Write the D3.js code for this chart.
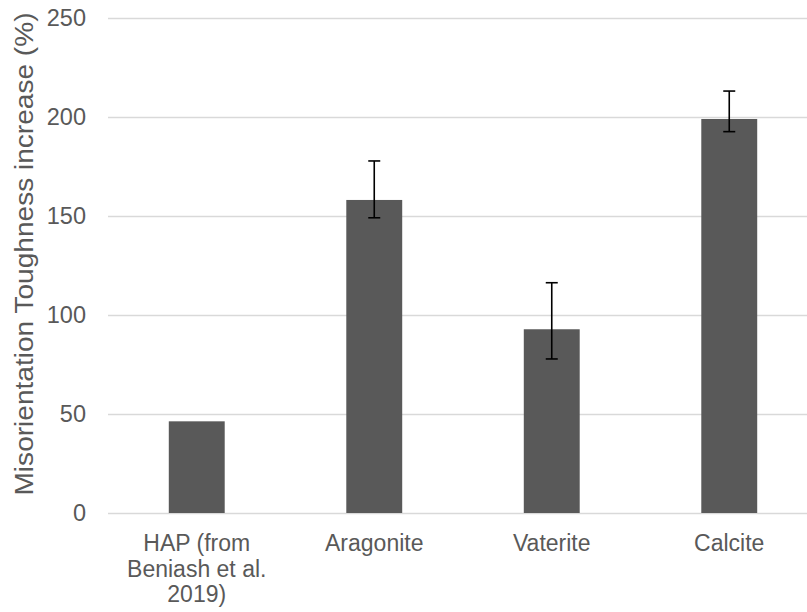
<!DOCTYPE html>
<html><head><meta charset="utf-8">
<script src="https://cdn.jsdelivr.net/npm/d3@7"></script>
<style>body{margin:0;background:#fff;} svg{display:block;font-family:"Liberation Sans",Arial,sans-serif;}</style>
</head><body>
<svg id="c" width="807" height="612"></svg>
<script>
const categories = [["HAP (from","Beniash et al.","2019)"],["Aragonite"],["Vaterite"],["Calcite"]];
const values = [46.3, 158.1, 92.8, 199.0];
const errLow = [null, 149.1, 77.8, 192.6];
const errHigh = [null, 177.8, 116.3, 213.1];
const yTicks = [0, 50, 100, 150, 200, 250];

const svg = d3.select("#c");
const mL = 108, mR = 818, mT = 18, mB = 513;
const x = d3.scaleBand().domain(d3.range(categories.length)).range([mL, mR]).paddingInner(0.685).paddingOuter(0.3425);
const y = d3.scaleLinear().domain([0, 250]).range([mB, mT]);

svg.append("g").selectAll("line").data(yTicks).join("line")
  .attr("x1", mL).attr("x2", mR)
  .attr("y1", d => y(d) + 0.5).attr("y2", d => y(d) + 0.5)
  .attr("stroke", "#d9d9d9").attr("stroke-width", 1.3);

svg.append("g").selectAll("text").data(yTicks).join("text")
  .attr("x", 86).attr("y", d => y(d)).attr("dy", "0.35em")
  .attr("text-anchor", "end").attr("fill", "#595959").attr("font-size", 23.5)
  .text(d => d);

svg.append("g").selectAll("rect").data(values).join("rect")
  .attr("x", (d, i) => x(i)).attr("width", x.bandwidth())
  .attr("y", d => y(d)).attr("height", d => y(0) - y(d))
  .attr("fill", "#595959");

const eg = svg.append("g").attr("stroke", "#000").attr("stroke-width", 1.6);
values.forEach((v, i) => {
  if (errLow[i] == null) return;
  const cx = x(i) + x.bandwidth() / 2;
  eg.append("line").attr("x1", cx).attr("x2", cx).attr("y1", y(errLow[i])).attr("y2", y(errHigh[i]));
  eg.append("line").attr("x1", cx - 6).attr("x2", cx + 6).attr("y1", y(errLow[i])).attr("y2", y(errLow[i]));
  eg.append("line").attr("x1", cx - 6).attr("x2", cx + 6).attr("y1", y(errHigh[i])).attr("y2", y(errHigh[i]));
});

const xl = svg.append("g");
categories.forEach((lines, i) => {
  const cx = x(i) + x.bandwidth() / 2;
  const t = xl.append("text").attr("text-anchor", "middle").attr("fill", "#595959").attr("font-size", 23);
  lines.forEach((s, j) => t.append("tspan").attr("x", cx).attr("y", 551 + j * 25.5).text(s));
});

svg.append("text").attr("transform", "translate(33,254) rotate(-90)")
  .attr("text-anchor", "middle").attr("fill", "#595959").attr("font-size", 26)
  .attr("textLength", 483).attr("lengthAdjust", "spacingAndGlyphs")
  .text("Misorientation Toughness increase (%)");
</script>
</body></html>
